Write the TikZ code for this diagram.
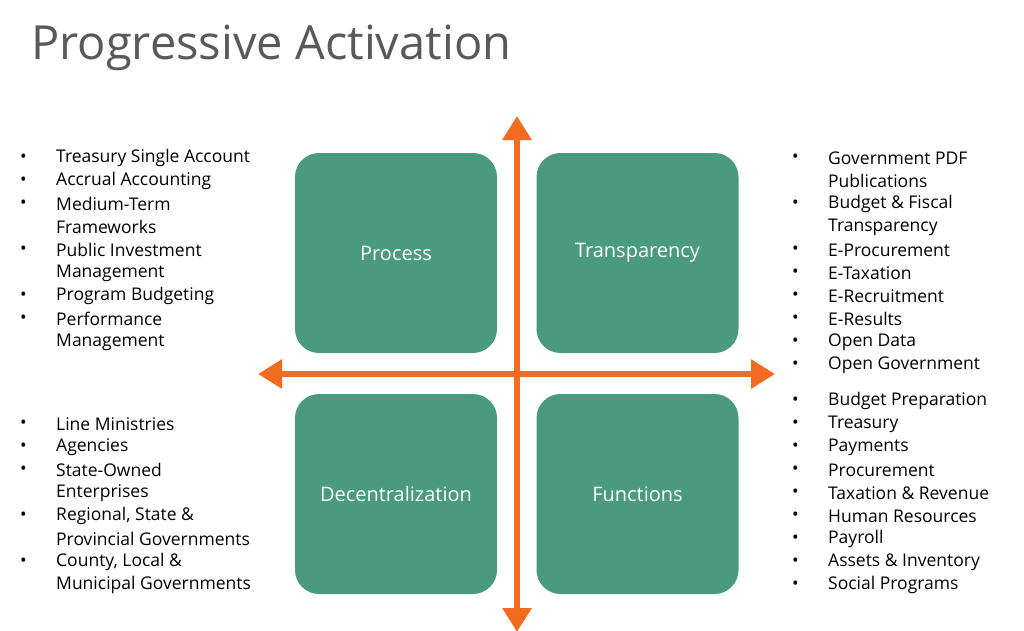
\documentclass[tikz,border=0pt]{standalone}
\usepackage{fontspec}
\setmainfont{Open Sans}
\usetikzlibrary{arrows.meta}
\definecolor{teal}{HTML}{4A9A80}
\definecolor{orng}{HTML}{F26B21}
\definecolor{ttl}{HTML}{595959}
\newcommand{\LI}[5]{%
  \node[lst] (t#5) at (#1,#2) {#4};
  \ifnum#3=1 \node[lst] (b#5) at (#1-36,#2) {•};\fi}
\begin{document}
\begin{tikzpicture}[x=1pt,y=-1pt,
  box/.style={fill=teal,rounded corners=24pt,minimum width=202pt,minimum height=200pt,text=white,font=\fontsize{20}{24}\selectfont},
  lst/.style={anchor=west,inner sep=0pt,font=\fontsize{17.5}{21}\selectfont},
  arr/.style={draw=orng,line width=6pt,-{Triangle[length=24pt,width=28pt]}}]
\useasboundingbox (0,0) rectangle (1024,630);
\node[anchor=west,inner sep=0pt,text=ttl,font=\fontsize{47}{52}\selectfont] (title) at (31,48) {Progressive Activation};
\node[box] (p) at (396,253) {Process};
\node[box] (t) at (637.5,253) {Transparency};
\node[box] (d) at (396,494) {Decentralization};
\node[box] (f) at (637.5,494) {Functions};
\coordinate (top) at (517,116);
\coordinate (bot) at (517,632);
\coordinate (lft) at (258,374);
\coordinate (rgt) at (775,374);
\coordinate (c) at (517,374);
\draw[arr] (c) -- (top);
\draw[arr] (c) -- (bot);
\draw[arr] (c) -- (lft);
\draw[arr] (c) -- (rgt);
% left top
\LI{56}{158}{1}{Treasury Single Account}{a1}
\LI{56}{181}{1}{Accrual Accounting}{a2}
\LI{56}{204}{1}{Medium-Term}{a3}
\LI{56}{227}{0}{Frameworks}{a4}
\LI{56}{250}{1}{Public Investment}{a5}
\LI{56}{273}{0}{Management}{a6}
\LI{56}{296}{1}{Program Budgeting}{a7}
\LI{56}{319}{1}{Performance}{a8}
\LI{56}{342}{0}{Management}{a9}
% left bottom
\LI{56}{424}{1}{Line Ministries}{c1}
\LI{56}{447}{1}{Agencies}{c2}
\LI{56}{470}{1}{State-Owned}{c3}
\LI{56}{493}{0}{Enterprises}{c4}
\LI{56}{516}{1}{Regional, State \&}{c5}
\LI{56}{539}{0}{Provincial Governments}{c6}
\LI{56}{562}{1}{County, Local \&}{c7}
\LI{56}{585}{0}{Municipal Governments}{c8}
% right top
\LI{828}{158}{1}{Government PDF}{r1}
\LI{828}{181}{0}{Publications}{r2}
\LI{828}{204}{1}{Budget \& Fiscal}{r3}
\LI{828}{227}{0}{Transparency}{r4}
\LI{828}{250}{1}{E-Procurement}{r5}
\LI{828}{273}{1}{E-Taxation}{r6}
\LI{828}{296}{1}{E-Recruitment}{r7}
\LI{828}{319}{1}{E-Results}{r8}
\LI{828}{342}{1}{Open Data}{r9}
\LI{828}{365}{1}{Open Government}{r10}
% right bottom
\LI{828}{401}{1}{Budget Preparation}{s1}
\LI{828}{424}{1}{Treasury}{s2}
\LI{828}{447}{1}{Payments}{s3}
\LI{828}{470}{1}{Procurement}{s4}
\LI{828}{493}{1}{Taxation \& Revenue}{s5}
\LI{828}{516}{1}{Human Resources}{s6}
\LI{828}{539}{1}{Payroll}{s7}
\LI{828}{562}{1}{Assets \& Inventory}{s8}
\LI{828}{585}{1}{Social Programs}{s9}
\end{tikzpicture}
\end{document}
